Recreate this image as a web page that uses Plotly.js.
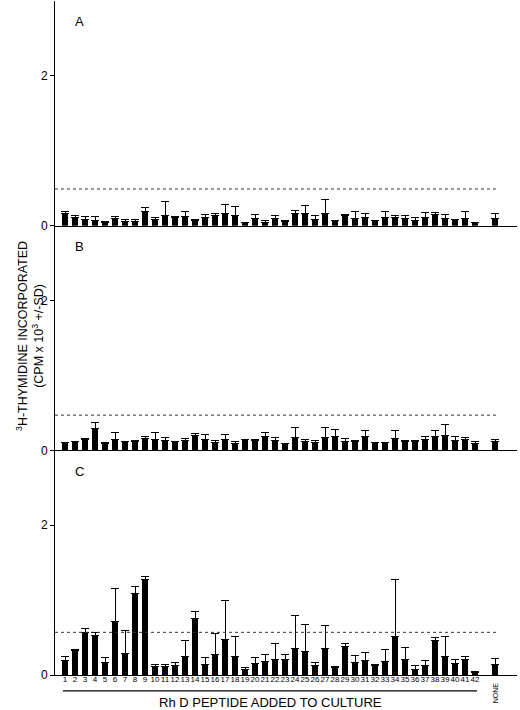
<!DOCTYPE html>
<html>
<head>
<meta charset="utf-8">
<script src="https://cdn.plot.ly/plotly-3.0.1.min.js"></script>
<style>
  body { margin: 0; background: #fff; }
  #chart { width: 520px; height: 710px; }
</style>
</head>
<body>
<div id="chart"></div>
<script>
// peptidi 1..42 + controllo senza peptide
const peptides = ['1','2','3','4','5','6','7','8','9','10','11','12','13','14','15','16','17','18','19','20',
  '21','22','23','24','25','26','27','28','29','30','31','32','33','34','35','36','37','38','39','40','41','42','NONE'];

// pannello A
const meanA = [0.157,0.107,0.085,0.07,0.04,0.094,0.054,0.058,0.188,0.076,0.134,0.112,0.116,0.063,0.107,0.134,0.166,0.139,0.04,0.09,
  0.04,0.098,0.054,0.166,0.157,0.085,0.157,0.063,0.139,0.098,0.107,0.067,0.103,0.103,0.094,0.072,0.103,0.143,0.09,0.085,0.098,0.045,0.094];
const sdA = [0.033,0.027,0.04,0.055,0.018,0.022,0.022,0.027,0.049,0.031,0.184,0.008,0.074,0.022,0.036,0.032,0.114,0.116,0.004,0.053,
  0.023,0.041,0.009,0.034,0.111,0.045,0.193,0.009,0.009,0.085,0.059,0.004,0.08,0.036,0.045,0.031,0.076,0.036,0.062,0.004,0.085,0.004,0.072];

// pannello B
const meanB = [0.098,0.112,0.143,0.29,0.09,0.143,0.112,0.12,0.161,0.143,0.125,0.116,0.125,0.192,0.139,0.103,0.139,0.09,0.139,0.134,
  0.188,0.125,0.09,0.165,0.112,0.107,0.165,0.188,0.116,0.112,0.179,0.103,0.098,0.152,0.116,0.116,0.143,0.179,0.192,0.134,0.139,0.09,0.116];
const sdB = [0.009,0.008,0.009,0.086,0.008,0.094,0.008,0.005,0.018,0.09,0.045,0.005,0.027,0.032,0.067,0.022,0.067,0.022,0.005,0.005,
  0.045,0.04,0.005,0.135,0.031,0.027,0.135,0.084,0.036,0.022,0.081,0.005,0.005,0.118,0.009,0.009,0.036,0.081,0.158,0.049,0.036,0.022,0.027];

// pannello C
const meanC = [0.19,0.33,0.57,0.53,0.17,0.716,0.286,1.087,1.27,0.11,0.11,0.13,0.246,0.75,0.139,0.28,0.47,0.246,0.076,0.157,
  0.179,0.21,0.21,0.36,0.31,0.125,0.36,0.1,0.385,0.17,0.197,0.125,0.18,0.52,0.21,0.07,0.125,0.456,0.246,0.15,0.21,0.036,0.143];
const sdC = [0.06,0.005,0.05,0.04,0.06,0.434,0.304,0.093,0.05,0.03,0.03,0.035,0.214,0.096,0.098,0.28,0.52,0.274,0.024,0.083,
  0.101,0.21,0.06,0.44,0.37,0.04,0.307,0.01,0.03,0.09,0.103,0.009,0.16,0.755,0.16,0.055,0.075,0.05,0.274,0.06,0.036,0.009,0.081];

// soglia (linea tratteggiata) per ogni pannello
const thresholds = [0.49, 0.47, 0.57];
const panelLabels = ['A', 'B', 'C'];

// posizioni: NONE lasciato staccato dopo il 42
const xPos = peptides.map((p, i) => p === 'NONE' ? i + 2 : i + 1);

const FONT = 'Liberation Sans, Arial, Helvetica, sans-serif';
const panels = [[meanA, sdA], [meanB, sdB], [meanC, sdC]];
const suffix = ['', '2', '3'];

const traces = panels.map((p, k) => ({
  type: 'bar',
  x: xPos,
  y: p[0],
  width: 0.52,
  marker: { color: '#000' },
  error_y: { type: 'data', symmetric: false, array: p[1], arrayminus: p[1].map(() => 0),
             color: '#000', thickness: 1, width: 4 },
  xaxis: 'x' + suffix[k],
  yaxis: 'y' + suffix[k],
  showlegend: false,
  hoverinfo: 'skip'
}));

const layout = {
  width: 520, height: 710,
  margin: { l: 55, r: 3, t: 1, b: 35 },
  paper_bgcolor: '#fff', plot_bgcolor: '#fff',
  font: { family: FONT, color: '#000' },
  bargap: 0,
  shapes: [],
  annotations: []
};

const domains = [[2/3, 1], [1/3, 2/3], [0, 1/3]];
for (let k = 0; k < 3; k++) {
  const xa = 'xaxis' + suffix[k], ya = 'yaxis' + suffix[k];
  layout[xa] = {
    domain: [0, 1], anchor: 'y' + suffix[k], range: [0, 46.2],
    showline: true, linecolor: '#000', linewidth: 1,
    showgrid: false, zeroline: false, ticks: '', showticklabels: false
  };
  layout[ya] = {
    domain: domains[k], anchor: 'x' + suffix[k], range: [0, 3],
    showline: true, linecolor: '#000', linewidth: 1,
    showgrid: false, zeroline: false,
    tickvals: [0, 2], ticktext: ['0', '2'],
    ticks: 'outside', ticklen: 4, tickcolor: '#000',
    tickfont: { size: 12, family: FONT }
  };
  layout.shapes.push({
    type: 'line', xref: 'x' + suffix[k] + ' domain', yref: 'y' + suffix[k],
    x0: 0, x1: 0.959, y0: thresholds[k], y1: thresholds[k],
    line: { color: '#333', width: 1, dash: 'dot' }
  });
  layout.annotations.push({
    text: panelLabels[k], xref: 'paper', yref: 'y' + suffix[k] + ' domain',
    x: 0.052, y: 0.908, xanchor: 'center', yanchor: 'middle',
    showarrow: false, font: { size: 13, family: FONT }
  });
}

// etichette asse x solo nel pannello C (NONE ruotato a parte)
layout.xaxis3.showticklabels = true;
layout.xaxis3.tickvals = xPos.slice(0, 42);
layout.xaxis3.ticktext = peptides.slice(0, 42);
layout.xaxis3.tickangle = 0;
layout.xaxis3.ticklabelstandoff = -4;
layout.xaxis3.tickfont = { size: 8, family: FONT };

layout.annotations.push({
  text: 'NONE', xref: 'x3', yref: 'paper', x: xPos[42], y: -0.027,
  xanchor: 'center', yanchor: 'middle',
  textangle: -90, showarrow: false, font: { size: 7, family: FONT }
});

// linea sotto i numeri dei peptidi
layout.shapes.push({
  type: 'line', xref: 'x3', yref: 'paper', x0: 0.8, x1: 42.2, y0: -0.0237, y1: -0.0237,
  line: { color: '#000', width: 1.2 }
});

layout.annotations.push({
  text: 'Rh D PEPTIDE ADDED TO CULTURE', xref: 'paper', yref: 'paper',
  x: 0.4675, y: -0.0415, xanchor: 'center', yanchor: 'middle',
  showarrow: false, font: { size: 13, family: FONT }
});

layout.annotations.push({
  text: '<sup>3</sup>H-THYMIDINE INCORPORATED<br>(CPM x 10<sup>3</sup> +/-SD)',
  xref: 'paper', yref: 'paper', x: -0.052, y: 0.503, xanchor: 'center', yanchor: 'middle',
  textangle: -90, showarrow: false, font: { size: 12.5, family: FONT }
});

Plotly.newPlot('chart', traces, layout, { displayModeBar: false, staticPlot: true });
</script>
</body>
</html>
